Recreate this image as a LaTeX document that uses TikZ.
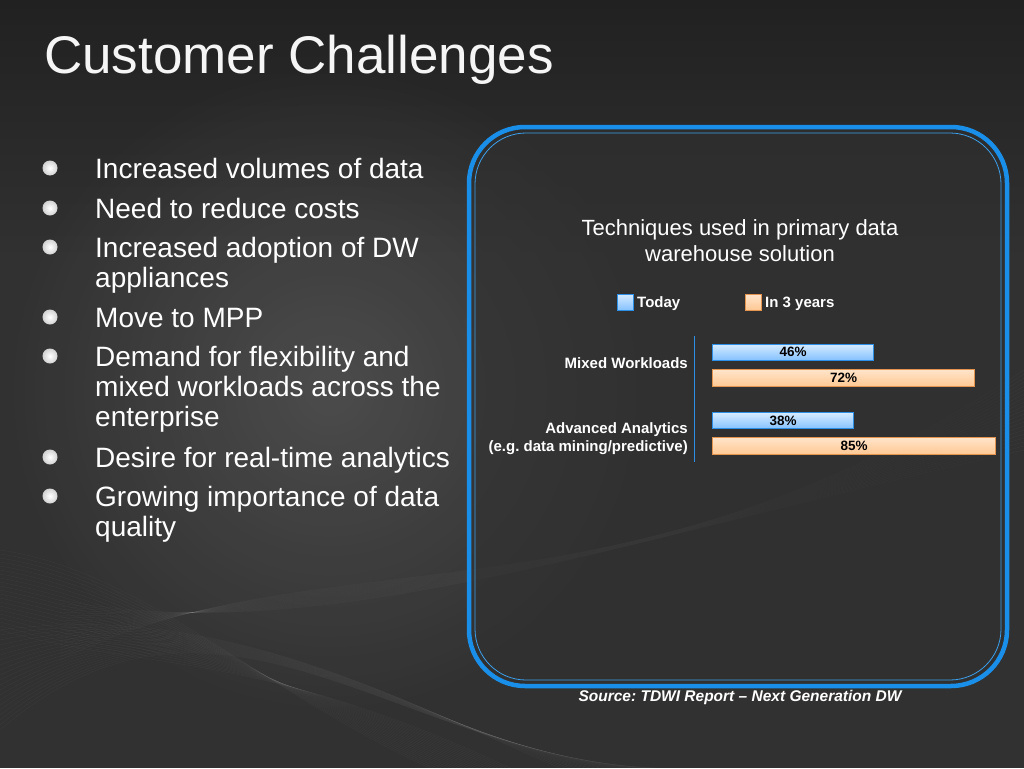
\documentclass[tikz,border=0pt]{standalone}
\usepackage{fontspec}
\setmainfont{Liberation Sans}
\usetikzlibrary{positioning}
\usetikzlibrary{calc}
\usetikzlibrary{fadings}
\frenchspacing

\definecolor{slidedark}{HTML}{212121}
\definecolor{slidebase}{HTML}{313131}
\definecolor{boxfill}{HTML}{303030}
\definecolor{boxblue}{HTML}{1A8FEA}
\definecolor{todaytop}{HTML}{D6EBFF}
\definecolor{todaybot}{HTML}{86C2FF}
\definecolor{todayedge}{HTML}{2E8FE6}
\definecolor{latertop}{HTML}{FFE6CC}
\definecolor{laterbot}{HTML}{FFC894}
\definecolor{lateredge}{HTML}{E3954F}

\tikzfading[name=glowfade, inner color=transparent!0, outer color=transparent!100]

\tikzset{
  slidetitle/.style={font=\fontsize{53}{56}\selectfont, text=gray!8, inner sep=0pt},
  dot/.style={circle, shading=radial, inner color=white, outer color=gray!35, minimum size=15pt, inner sep=0pt},
  item/.style={font=\fontsize{28}{30}\selectfont, text=white, align=left, inner sep=0pt},
  boxline/.style={draw=boxblue, line width=4.5pt, rounded corners=56pt},
  charttitle/.style={font=\fontsize{22}{26}\selectfont, text=white, align=center, inner sep=0pt},
  legendtext/.style={font=\bfseries\fontsize{15}{18}\selectfont, text=white, inner sep=0pt},
  swatch/.style={minimum size=16pt, inner sep=0pt, line width=1pt},
  catlabel/.style={font=\bfseries\fontsize{15}{18}\selectfont, text=white, align=right, inner sep=0pt},
  bar/.style={anchor=west, inner sep=0pt, line width=1pt, font=\bfseries\fontsize{13.5}{15}\selectfont, text=black},
  todaybar/.style={bar, draw=todayedge, top color=todaytop, bottom color=todaybot},
  laterbar/.style={bar, draw=lateredge, top color=latertop, bottom color=laterbot},
  swirl/.style={white, opacity=0.03, line width=0.5pt}
}

\begin{document}
\begin{tikzpicture}[x=1pt,y=-1pt]
  \useasboundingbox (0,0) rectangle (1024,768);

  % background
  \fill[slidebase] (0,0) rectangle (1024,768);
  \shade[top color=slidedark, bottom color=slidebase] (0,0) rectangle (1024,260);
  \fill[white, opacity=0.13, path fading=glowfade] (330,390) circle (330);
  \foreach \k in {0,...,20} {
    \draw[swirl] (0,550+\k*4) .. controls (140,570+\k*5) and (260,690-\k*2) .. (430+\k*4,768);
    \draw[swirl] (60,660-\k*3) .. controls (320,530+\k*6) and (620,640-\k*5) .. (1024,370+\k*4);
    \draw[swirl] (0,630+\k*5) .. controls (220,600-\k*3) and (400,700+\k*3) .. (560+\k*5,768);
  }

  % title
  \node[slidetitle, anchor=base west] (title) at (44,73) {Customer Challenges};

  % bullet list
  \foreach \y/\txt [count=\i] in {
      178/Increased volumes of data,
      218/Need to reduce costs,
      257/{Increased adoption of DW\\appliances},
      327/Move to MPP,
      366/{Demand for flexibility and\\mixed workloads across the\\enterprise},
      467/Desire for real-time analytics,
      506/{Growing importance of data\\quality}} {
    \node[dot] (b\i) at (50,\y-10) {};
    \node[item, anchor=north west] (t\i) at (95,\y-21) {\strut\txt};
  }

  % chart frame
  \fill[boxfill, opacity=0.6, rounded corners=56pt] (469,127) rectangle (1007,686);
  \draw[boxline] (469,127) rectangle (1007,686);
  \draw[draw=boxblue!85!white, line width=0.8pt, rounded corners=51pt] (475,133) rectangle (1001,680);

  \node[charttitle] (ctitle) at (740,241) {Techniques used in primary data\\warehouse solution};

  % legend
  \node[swatch, draw=todayedge, top color=todaytop, bottom color=todaybot] (sw today) at (625,302) {};
  \node[legendtext, anchor=west] (lg today) at (637,304) {Today};
  \node[swatch, draw=lateredge, top color=latertop, bottom color=laterbot] (sw later) at (753,302) {};
  \node[legendtext, anchor=west] (lg later) at (765,304) {In 3 years};

  % axis
  \coordinate (ax top) at (694,336);
  \coordinate (ax bot) at (694,462);
  \draw[todayedge, line width=1pt] (ax top) -- (ax bot);

  % bars
  \node[todaybar, minimum width=161pt, minimum height=16pt] (mw today) at (712,352) {46\%};
  \node[laterbar, minimum width=262pt, minimum height=17pt] (mw later) at (712,377.5) {72\%};
  \node[todaybar, minimum width=141pt, minimum height=16pt] (aa today) at (712,420.5) {38\%};
  \node[laterbar, minimum width=283pt, minimum height=17pt] (aa later) at (712,445.5) {85\%};

  % category labels
  \node[catlabel, anchor=east] (mw label) at (688,363) {Mixed Workloads};
  \node[catlabel, anchor=east] (aa label) at (688,439) {Advanced Analytics\\(e.g. data mining/predictive)};

  % source
  \node[font=\bfseries\itshape\fontsize{15.5}{18}\selectfont, text=white, inner sep=0pt] (src) at (740,697) {Source: TDWI Report – Next Generation DW};
\end{tikzpicture}
\end{document}
